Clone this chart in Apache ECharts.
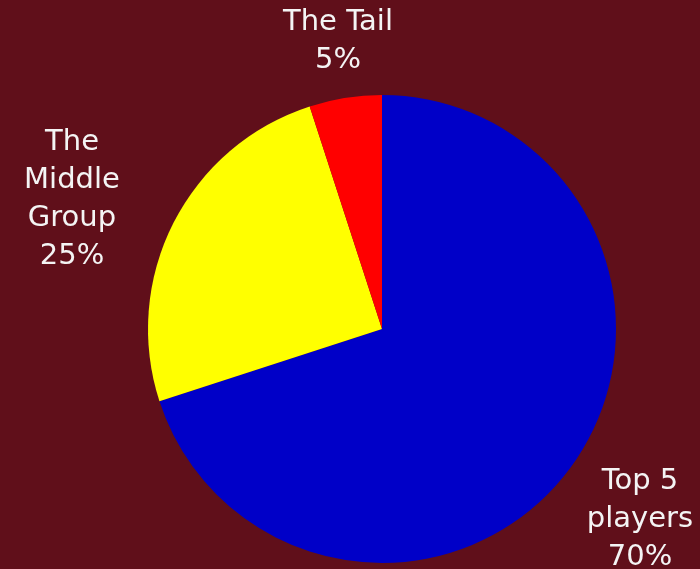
<!DOCTYPE html>
<html><head><meta charset="utf-8">
<script src="https://cdn.jsdelivr.net/npm/echarts@6/dist/echarts.min.js"></script>
<style>html,body{margin:0;padding:0;background:#600f1a;}#c{width:700px;height:569px;}</style>
</head><body><div id="c"></div>
<script>
const categories = ['Top 5\nplayers', 'The\nMiddle\nGroup', 'The Tail'];
const values = [70, 25, 5];
const colors = ['#0000c8', '#ffff00', '#ff0000'];
const labelPos = [[640, 519], [72, 199], [338, 41]];

const chart = echarts.init(document.getElementById('c'), null, {renderer: 'canvas'});
chart.setOption({
  backgroundColor: '#600f1a',
  animation: false,
  series: [{
    type: 'pie',
    center: [382, 329],
    radius: 234,
    startAngle: 90,
    clockwise: true,
    silent: true,
    avoidLabelOverlap: false,
    data: categories.map((c, i) => ({name: c, value: values[i], itemStyle: {color: colors[i]}})),
    label: {
      show: true,
      position: 'outside',
      formatter: p => p.name + '\n' + p.value + '%',
      color: '#f4f4f4',
      fontFamily: 'DejaVu Sans',
      fontSize: 29,
      lineHeight: 38,
      align: 'center',
      overflow: 'none',
      width: 200
    },
    labelLine: {show: false},
    labelLayout: p => ({x: labelPos[p.dataIndex][0], y: labelPos[p.dataIndex][1], align: 'center', verticalAlign: 'middle'})
  }]
});
</script></body></html>
